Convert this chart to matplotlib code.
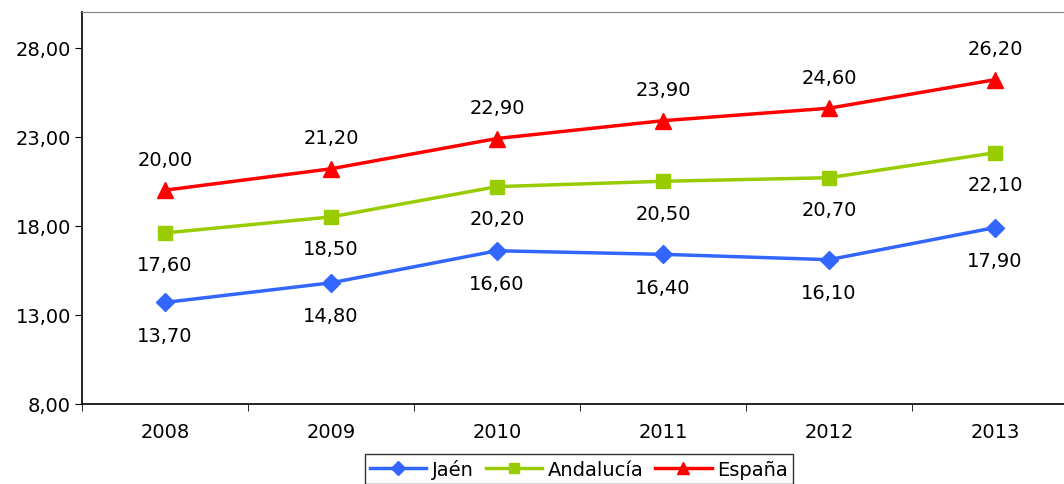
import matplotlib
matplotlib.use('Agg')
from matplotlib import pyplot as plt

years = ['2008', '2009', '2010', '2011', '2012', '2013']
jaen = [13.70, 14.80, 16.60, 16.40, 16.10, 17.90]
andalucia = [17.60, 18.50, 20.20, 20.50, 20.70, 22.10]
espana = [20.00, 21.20, 22.90, 23.90, 24.60, 26.20]
yticks = [8, 13, 18, 23, 28]

plt.rcParams['font.family'] = 'DejaVu Sans'
plt.rcParams['font.size'] = 14

fig = plt.figure(figsize=(10.64, 4.85), dpi=100)
ax = fig.add_axes([82/1064, 1 - 405/485, (1078-82)/1064, (405-13)/485])

x = list(range(len(years)))

def fmt(v):
    return ('%.2f' % v).replace('.', ',')

ax.plot(x, jaen, color='#3366FF', lw=2.5, marker='D', ms=9, label='Jaén')
ax.plot(x, andalucia, color='#99CC00', lw=2.5, marker='s', ms=10, label='Andalucía')
ax.plot(x, espana, color='#FF0000', lw=2.5, marker='^', ms=11, label='España')

for i, v in enumerate(jaen):
    ax.annotate(fmt(v), (i, v), xytext=(0, -33), textcoords='offset pixels',
                ha='center', va='center')
for i, v in enumerate(andalucia):
    ax.annotate(fmt(v), (i, v), xytext=(0, -32), textcoords='offset pixels',
                ha='center', va='center')
for i, v in enumerate(espana):
    ax.annotate(fmt(v), (i, v), xytext=(0, 31), textcoords='offset pixels',
                ha='center', va='center')

ax.set_xlim(-0.5, 5.5)
ax.set_ylim(8, 30)
ax.set_yticks(yticks)
ax.set_yticklabels([fmt(t) for t in yticks])
ax.set_xticks(x)
ax.set_xticklabels(years)
ax.set_xticks([i + 0.5 for i in range(-1, 6)], minor=True)
ax.tick_params(axis='x', which='major', length=0, pad=13)
ax.tick_params(axis='x', which='minor', length=5, direction='out')
ax.tick_params(axis='y', length=5, direction='out', pad=3)

ax.spines['top'].set_color('#808080')
ax.spines['right'].set_visible(False)
ax.spines['left'].set_linewidth(1.2)
ax.spines['bottom'].set_linewidth(1.2)

leg = fig.legend(loc='upper center', bbox_to_anchor=(579/1064, 1 - 455/485), ncol=3,
                 frameon=True, fancybox=False, edgecolor='black', fontsize=14,
                 handlelength=2.9, handletextpad=0.3, columnspacing=0.6,
                 borderpad=0.25, borderaxespad=0, markerscale=0.75)
leg.get_frame().set_linewidth(1.0)

fig.savefig('out.png', dpi=100)
